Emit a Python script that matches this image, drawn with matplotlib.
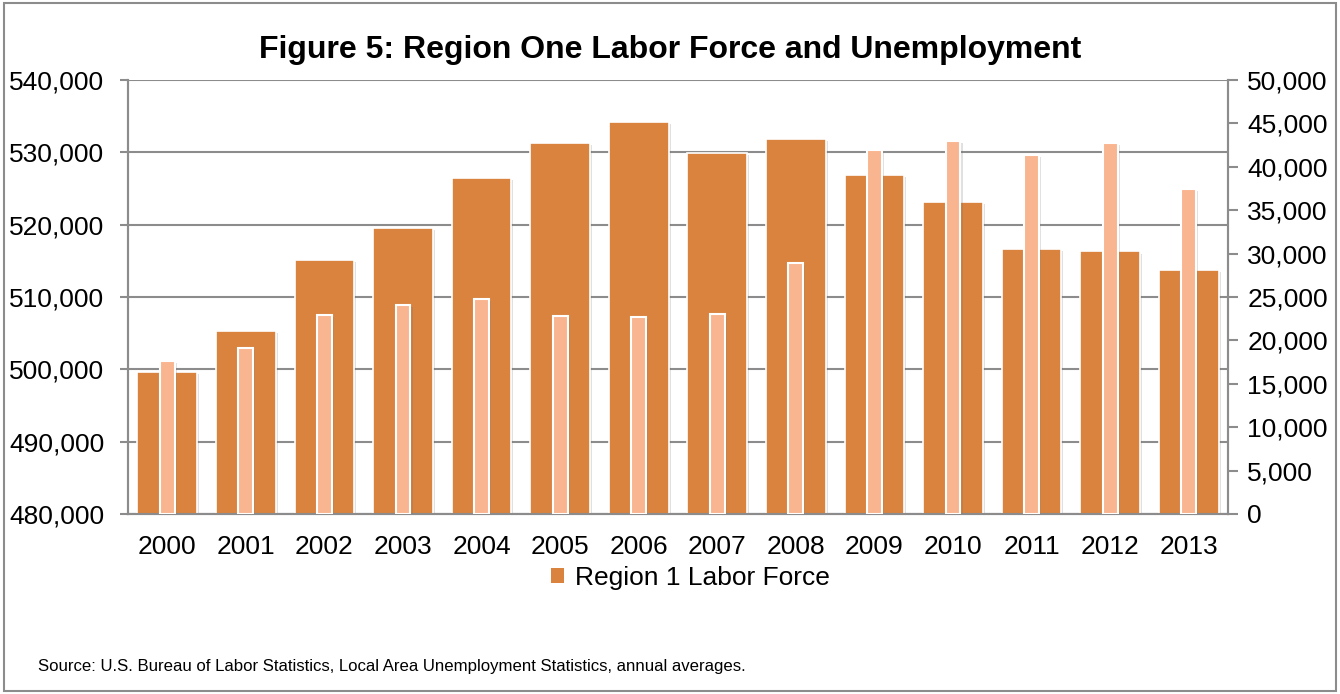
import matplotlib.pyplot as plt
import matplotlib.patheffects as pe
from matplotlib.ticker import FuncFormatter, MultipleLocator
from matplotlib.patches import Rectangle, Patch

plt.rcParams['font.family'] = ['Liberation Sans', 'DejaVu Sans']

years = ['2000', '2001', '2002', '2003', '2004', '2005', '2006',
         '2007', '2008', '2009', '2010', '2011', '2012', '2013']
labor_force = [499600, 505300, 515100, 519500, 526400, 531300, 534200,
               529900, 531800, 526900, 523100, 516600, 516300, 513800]
unemployment = [17600, 19100, 22900, 24100, 24800, 22800, 22700,
                23000, 28900, 41900, 43000, 41400, 42700, 37400]

dark = '#D9833F'
light = '#F9B58F'
grey = '#8C8C8C'

fig = plt.figure(figsize=(13.4, 6.94), dpi=100)
fig.patches.append(Rectangle((0.003, 0.004), 0.994, 0.992, transform=fig.transFigure,
                             fill=False, edgecolor=grey, linewidth=1.5))
ax = fig.add_axes([0.0955, 0.2594, 0.8209, 0.6253])
ax2 = ax.twinx()

x = range(len(years))
shadow = [pe.SimplePatchShadow(offset=(1.5, -1.5), shadow_rgbFace='#666666', alpha=0.2), pe.Normal()]

b1 = ax.bar(x, labor_force, width=0.76, color=dark, edgecolor='white', linewidth=1.2,
            zorder=3)
for b in b1:
    b.set_path_effects(shadow)
b2 = ax2.bar(x, unemployment, width=0.19, color=light, edgecolor='white', linewidth=1.5,
             zorder=3)
for b in b2:
    b.set_path_effects(shadow)

ax.set_ylim(480000, 540000)
ax.set_xlim(-0.5, 13.5)
ax.yaxis.set_major_locator(MultipleLocator(10000))
ax.yaxis.set_major_formatter(FuncFormatter(lambda v, p: f'{int(v):,}'))
ax.grid(axis='y', color=grey, linewidth=1.5, zorder=0)
ax.set_axisbelow(True)
ax.set_xticks(list(x))
ax.set_xticklabels(years)

ax2.set_ylim(0, 50000)
ax2.yaxis.set_major_locator(MultipleLocator(5000))
ax2.yaxis.set_major_formatter(FuncFormatter(lambda v, p: f'{int(v):,}'))

for a in (ax, ax2):
    a.spines['top'].set_visible(False)
    for s in ('left', 'right', 'bottom'):
        a.spines[s].set_color(grey)
        a.spines[s].set_linewidth(1.5)
ax.tick_params(axis='y', labelsize=19, length=6, color=grey, width=1.5, pad=11)
ax.tick_params(axis='x', labelsize=19, length=0, pad=15)
ax2.tick_params(axis='y', labelsize=19, length=7, color=grey, width=1.5, pad=7)

fig.text(0.5, 0.928, 'Figure 5: Region One Labor Force and Unemployment',
         ha='center', va='center', fontsize=23, fontweight='bold')
handle = Patch(facecolor=dark, edgecolor='none', label='Region 1 Labor Force')
fig.legend(handles=[handle], loc='center', bbox_to_anchor=(0.515, 0.167), frameon=False,
           fontsize=19, handlelength=0.5, handleheight=0.5, handletextpad=0.4)
fig.text(0.028, 0.04, 'Source: U.S. Bureau of Labor Statistics, Local Area Unemployment '
         'Statistics, annual averages.', ha='left', va='center', fontsize=12.1)

fig.savefig('out.png', dpi=100)
